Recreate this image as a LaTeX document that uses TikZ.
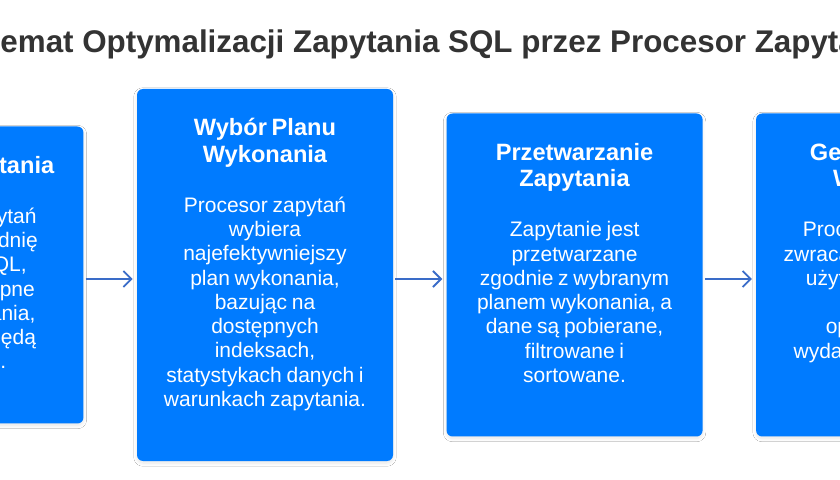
\documentclass[tikz,border=0pt]{standalone}
\usepackage{fontspec}
\setmainfont{Liberation Sans}
\usetikzlibrary{arrows.meta,positioning,shadows.blur}

\definecolor{stepblue}{RGB}{0,123,255}
\definecolor{connblue}{RGB}{58,108,200}
\definecolor{titlegray}{RGB}{51,51,51}

\newcommand{\headfont}{\fontsize{16.8}{18.85}\selectfont\bfseries}
\newcommand{\bodyfont}{\fontsize{14.94}{17.28}\selectfont\mdseries}

\begin{document}
\begin{tikzpicture}
	\tikzstyle{stepbox} = [
		rectangle, rounded corners=0.15cm, fill=stepblue, minimum width=6.4cm, inner sep=0pt,
		blur shadow={shadow xshift=0pt, shadow yshift=-0.05cm, shadow blur radius=0.08cm,
			shadow blur extra rounding=0pt, shadow blur steps=8, shadow opacity=10}
	]
	\tikzstyle{steptext} = [
		text width=5.4cm, align=center, text=white, inner sep=0pt, anchor=base
	]
	\tikzstyle{conn} = [
		-{Straight Barb[length=0.2cm, width=0.4cm]}, line width=1.3pt, draw=connblue,
		shorten <=0.05cm, shorten >=0.1cm
	]

	% Canvas
	\path[use as bounding box, clip] (0,0) rectangle (21,12);
	\fill[white] (0,0) rectangle (21,12);

	% Title
	\node (title) [anchor=base, text=titlegray, font=\fontsize{22.3}{26}\selectfont\bfseries] at (10.225,10.675)
		{Schemat Optymalizacji Zapytania SQL przez Procesor Zapytań};

	% Steps
	\node (plan) [stepbox, minimum height=9.3cm] at (6.625,5.125) {};
	\node (analysis) [stepbox, minimum height=7.425cm, left=1.325cm of plan] {};
	\node (processing) [stepbox, minimum height=8.075cm, right=1.325cm of plan] {};
	\node (result) [stepbox, minimum height=8.075cm, right=1.325cm of processing] {};

	% Texts
	\node (analysis_text) [steptext] at ([yshift=-1.175cm]analysis.north) {
		\headfont Analiza Zapytania\par\vspace{18.3pt}
		\bodyfont Procesor zapytań\\analizuje składnię\\zapytania SQL,\\określa dostępne\\plany wykonania,\\które potem będą\\wybierane.\par
	};
	\node (plan_text) [steptext] at ([yshift=-1.175cm]plan.north) {
		\headfont Wybór Planu\\Wykonania\par\vspace{18.3pt}
		\bodyfont Procesor zapytań\\wybiera\\najefektywniejszy\\plan wykonania,\\bazując na\\dostępnych\\indeksach,\\statystykach danych i\\warunkach zapytania.\par
	};
	\node (processing_text) [steptext] at ([yshift=-1.175cm]processing.north) {
		\headfont Przetwarzanie\\Zapytania\par\vspace{18.3pt}
		\bodyfont Zapytanie jest\\przetwarzane\\zgodnie z wybranym\\planem wykonania, a\\dane są pobierane,\\filtrowane i\\sortowane.\par
	};
	\node (result_text) [steptext] at ([yshift=-1.175cm]result.north) {
		\headfont Generowanie\\Wyników\par\vspace{18.3pt}
		\bodyfont Procesor zapytań\\zwraca gotowe wyniki\\użytkownikowi, a\\przy tym\\optymalizuje\\wydajność systemu\\bazy.\par
	};

	% Connections
	\draw[conn] ([yshift=-0.1cm]analysis.east) -- ([yshift=-0.1cm]plan.west);
	\draw[conn] ([yshift=-0.1cm]plan.east) -- ([yshift=-0.1cm]processing.west);
	\draw[conn] ([yshift=-0.1cm]processing.east) -- ([yshift=-0.1cm]result.west);

\end{tikzpicture}
\end{document}
